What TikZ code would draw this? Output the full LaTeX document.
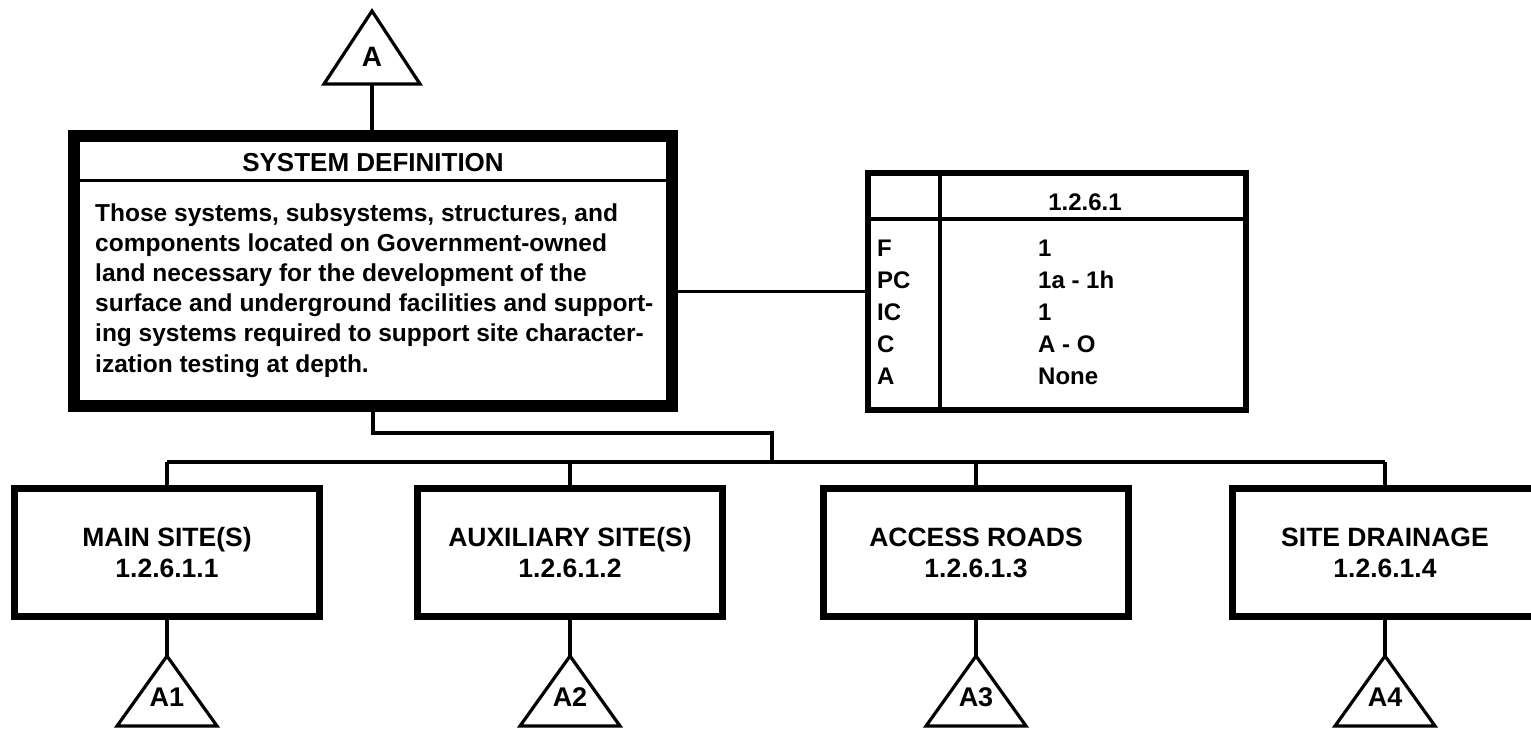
\documentclass[tikz,border=0pt]{standalone}
\usepackage{fontspec}
\setmainfont{Liberation Sans}
\begin{document}
\begin{tikzpicture}[x=1pt,y=-1pt, line join=miter,
  conn/.style={line width=3.5pt},
  tri/.style={line width=3.2pt, line join=miter},
  mainbox/.style={draw, line width=12pt, minimum width=598pt, minimum height=270pt, inner sep=0pt},
  tabbox/.style={draw, line width=6pt, minimum width=378pt, minimum height=237pt, inner sep=0pt},
  childbox/.style={draw, line width=7pt, minimum width=305pt, minimum height=128pt, inner sep=0pt, align=center, font=\bfseries\fontsize{26.5}{31}\selectfont},
  txt/.style={inner sep=0pt, font=\bfseries\fontsize{24.5}{30}\selectfont},
  ttl/.style={inner sep=0pt, font=\bfseries\fontsize{26}{30}\selectfont},
  tabtxt/.style={inner sep=0pt, font=\bfseries\fontsize{24}{30}\selectfont},
  tlab/.style={inner sep=0pt, font=\bfseries\fontsize{27}{30}\selectfont},
]
\path[use as bounding box, fill=white] (0,0) rectangle (1531,729);
\clip (0,0) rectangle (1531,729);

% main box
\node[mainbox] (main) at (373,271) {};
\draw[line width=3pt] (80,180) -- (666,180);
\node[ttl, anchor=base] (title) at (373,171.5) {SYSTEM DEFINITION};
\node[txt, anchor=base west] (d1) at (95,221) {Those systems, subsystems, structures, and};
\node[txt, anchor=base west] (d2) at (95,251.2) {components located on Government-owned};
\node[txt, anchor=base west] (d3) at (95,281.4) {land necessary for the development of the};
\node[txt, anchor=base west] (d4) at (95,311.6) {surface and underground facilities and support-};
\node[txt, anchor=base west] (d5) at (95,341.8) {ing systems required to support site character-};
\node[txt, anchor=base west] (d6) at (95,372) {ization testing at depth.};

% table
\node[tabbox] (tab) at (1057,291.5) {};
\draw[line width=4pt] (871,219) -- (1243,219);
\draw[line width=4.5pt] (940,176) -- (940,407);
\node[tabtxt, anchor=base] (th) at (1085,210.5) {1.2.6.1};
\node[tabtxt, anchor=base west] (rF) at (877,256.5) {F};
\node[tabtxt, anchor=base west] (rPC) at (877,288.5) {PC};
\node[tabtxt, anchor=base west] (rIC) at (877,320.5) {IC};
\node[tabtxt, anchor=base west] (rC) at (877,352.5) {C};
\node[tabtxt, anchor=base west] (rA) at (877,384.5) {A};
\node[tabtxt, anchor=base west] (vF) at (1038,256.5) {1};
\node[tabtxt, anchor=base west] (vPC) at (1038,288.5) {1a - 1h};
\node[tabtxt, anchor=base west] (vIC) at (1038,320.5) {1};
\node[tabtxt, anchor=base west] (vC) at (1038,352.5) {A - O};
\node[tabtxt, anchor=base west] (vA) at (1038,384.5) {None};

% connector main -> table
\draw[conn] (tab.west) -- (tab.west -| main.east);

% top triangle
\coordinate (tAb) at (372,84);
\draw[tri] (324,84) -- (372,11) -- (420,84) -- cycle;
\node[tlab, font=\bfseries\fontsize{28}{30}\selectfont] (tA) at (372,57) {A};
\draw[conn] (tAb) -- (tAb |- main.north);

% children
\node[childbox] (c1) at (167,552.5) {MAIN SITE(S)\\1.2.6.1.1};
\node[childbox] (c2) at (570,552.5) {AUXILIARY SITE(S)\\1.2.6.1.2};
\node[childbox] (c3) at (976,552.5) {ACCESS ROADS\\1.2.6.1.3};
\node[childbox] (c4) at (1385,552.5) {SITE DRAINAGE\\1.2.6.1.4};

% bus
\coordinate (bend) at (772,433);
\coordinate (bus) at (772,462);
\draw[conn] (main.south) |- (bend) -- (bus);
\draw[conn] (c1.north |- bus) -- (c4.north |- bus);
\foreach \c in {c1,c2,c3,c4} {
  \draw[conn] (\c.north) -- (\c.north |- bus);
}

% bottom triangles
\foreach \c/\x/\l in {c1/167/A1, c2/570/A2, c3/976/A3, c4/1385/A4} {
  \coordinate (t\l) at (\x,656);
  \draw[tri] (\x-50,726) -- (t\l) -- (\x+50,726) -- cycle;
  \node[tlab] (lab\l) at (\x,697) {\l};
  \draw[conn] (\c.south) -- (t\l);
}
\end{tikzpicture}
\end{document}
